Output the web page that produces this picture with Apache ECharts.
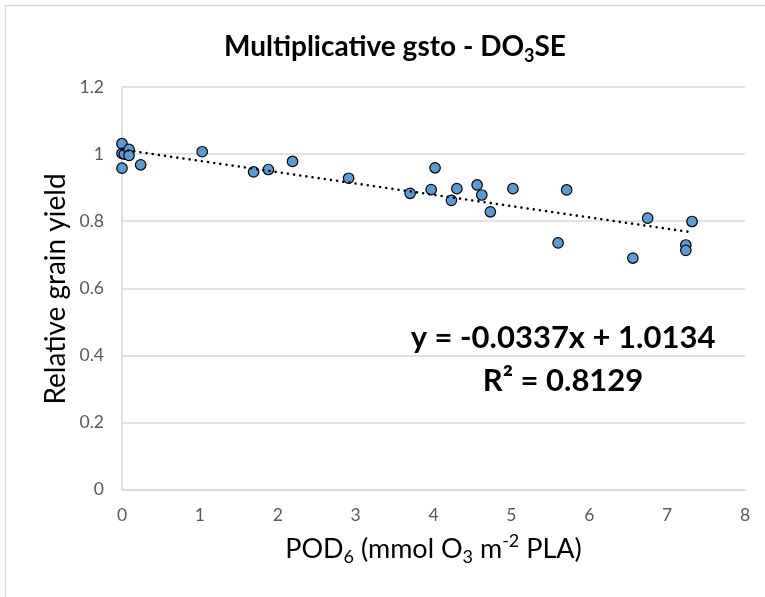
<!DOCTYPE html>
<html>
<head>
<meta charset="utf-8">
<script src="https://cdn.jsdelivr.net/npm/echarts@6/dist/echarts.min.js"></script>
<style>html,body{margin:0;padding:0;background:#fff}#c{width:765px;height:597px}</style>
</head>
<body>
<div id="c"></div>
<script>
// Data
const podValues = [0, 0, 0.03, 0.09, 0.09, 0, 0.24, 1.03, 1.69, 1.88, 2.19, 2.91, 3.70, 3.97, 4.02, 4.23, 4.30, 4.56, 4.62, 4.73, 5.02, 5.60, 5.71, 6.56, 6.75, 7.24, 7.24, 7.32];
const yieldValues = [1.031, 1.002, 1.000, 1.014, 0.996, 0.958, 0.968, 1.007, 0.947, 0.954, 0.978, 0.928, 0.883, 0.894, 0.959, 0.862, 0.897, 0.908, 0.878, 0.828, 0.897, 0.735, 0.893, 0.690, 0.809, 0.729, 0.713, 0.799];
const trendSlope = -0.0337;
const trendIntercept = 1.0134;
const trendRange = [0, 7.33];
const rSquared = 0.8129;
const xTicks = [0, 1, 2, 3, 4, 5, 6, 7, 8];
const yTicks = [0, 0.2, 0.4, 0.6, 0.8, 1, 1.2];
const yAxisTitle = 'Relative grain yield';

const FONT = 'Lato';
const chart = echarts.init(document.getElementById('c'), null, {renderer: 'canvas'});

const scatterData = podValues.map((x, i) => [x, yieldValues[i]]);
const trendData = trendRange.map(x => [x, trendSlope * x + trendIntercept]);

const option = {
  backgroundColor: '#fff',
  animation: false,
  title: {
    text: '{m|Multiplicative gsto - DO}{s|3}{m|SE}',
    left: 390, textAlign: 'center', top: 24,
    textStyle: {
      rich: {
        m: {fontFamily: FONT, fontWeight: 'bold', fontSize: 28, color: '#000', lineHeight: 36},
        s: {fontFamily: FONT, fontWeight: 'bold', fontSize: 18, color: '#000', lineHeight: 24, verticalAlign: 'bottom'}
      }
    }
  },
  grid: {left: 122, right: 20, top: 87, bottom: 107.5, containLabel: false},
  xAxis: {
    type: 'value', min: xTicks[0], max: xTicks[xTicks.length - 1], interval: 1,
    axisLine: {show: true, lineStyle: {color: '#D9D9D9', width: 1.5}},
    axisTick: {show: false},
    splitLine: {show: false},
    axisLabel: {color: '#595959', fontFamily: FONT, fontSize: 17.5, margin: 17},
    name: '{m|POD}{s|6}{m| (mmol O}{s|3}{m| m}{p|-2}{m| PLA)}',
    nameLocation: 'middle', nameGap: 43, nameMoveOverlap: false,
    nameTextStyle: {
      rich: {
        m: {fontFamily: FONT, fontSize: 27, color: '#000', lineHeight: 34},
        s: {fontFamily: FONT, fontSize: 18, color: '#000', lineHeight: 22, verticalAlign: 'bottom'},
        p: {fontFamily: FONT, fontSize: 18, color: '#000', lineHeight: 22, verticalAlign: 'top'}
      }
    }
  },
  yAxis: {
    type: 'value', min: yTicks[0], max: yTicks[yTicks.length - 1], interval: 0.2,
    axisLine: {show: true, lineStyle: {color: '#D9D9D9', width: 1.5}},
    axisTick: {show: false},
    splitLine: {show: true, lineStyle: {color: '#D9D9D9', width: 1.5}},
    axisLabel: {color: '#595959', fontFamily: FONT, fontSize: 17.5, margin: 18,
      formatter: v => String(Math.round(v * 10) / 10)}
  },
  series: [
    {
      type: 'scatter', data: scatterData, symbol: 'circle', symbolSize: 10.5,
      itemStyle: {color: '#5B9BD5', borderColor: '#000', borderWidth: 1.2, opacity: 1},
      z: 2
    },
    {
      type: 'line', data: trendData, showSymbol: false, symbol: 'none',
      lineStyle: {color: '#000', width: 2.6, type: [0.01, 6.2], cap: 'round'},
      z: 3
    }
  ],
  graphic: [
    {type: 'rect', shape: {x: 5.5, y: 5.5, width: 900, height: 800}, style: {fill: null, stroke: '#D9D9D9', lineWidth: 1.5}, silent: true, z: -1},
    {type: 'text', x: 56, y: 289, rotation: Math.PI / 2, style: {text: yAxisTitle, fontFamily: FONT, fontSize: 28, fill: '#000', align: 'center', verticalAlign: 'middle'}},
    {type: 'text', x: 563, y: 338, style: {text: 'y = ' + trendSlope.toFixed(4) + 'x + ' + trendIntercept.toFixed(4), fontFamily: FONT, fontWeight: 'bold', fontSize: 31, fill: '#000', align: 'center', verticalAlign: 'middle'}},
    {type: 'text', x: 563, y: 381, style: {text: 'R² = ' + rSquared.toFixed(4), fontFamily: FONT, fontWeight: 'bold', fontSize: 31, fill: '#000', align: 'center', verticalAlign: 'middle'}}
  ]
};
chart.setOption(option);
</script>
</body>
</html>
